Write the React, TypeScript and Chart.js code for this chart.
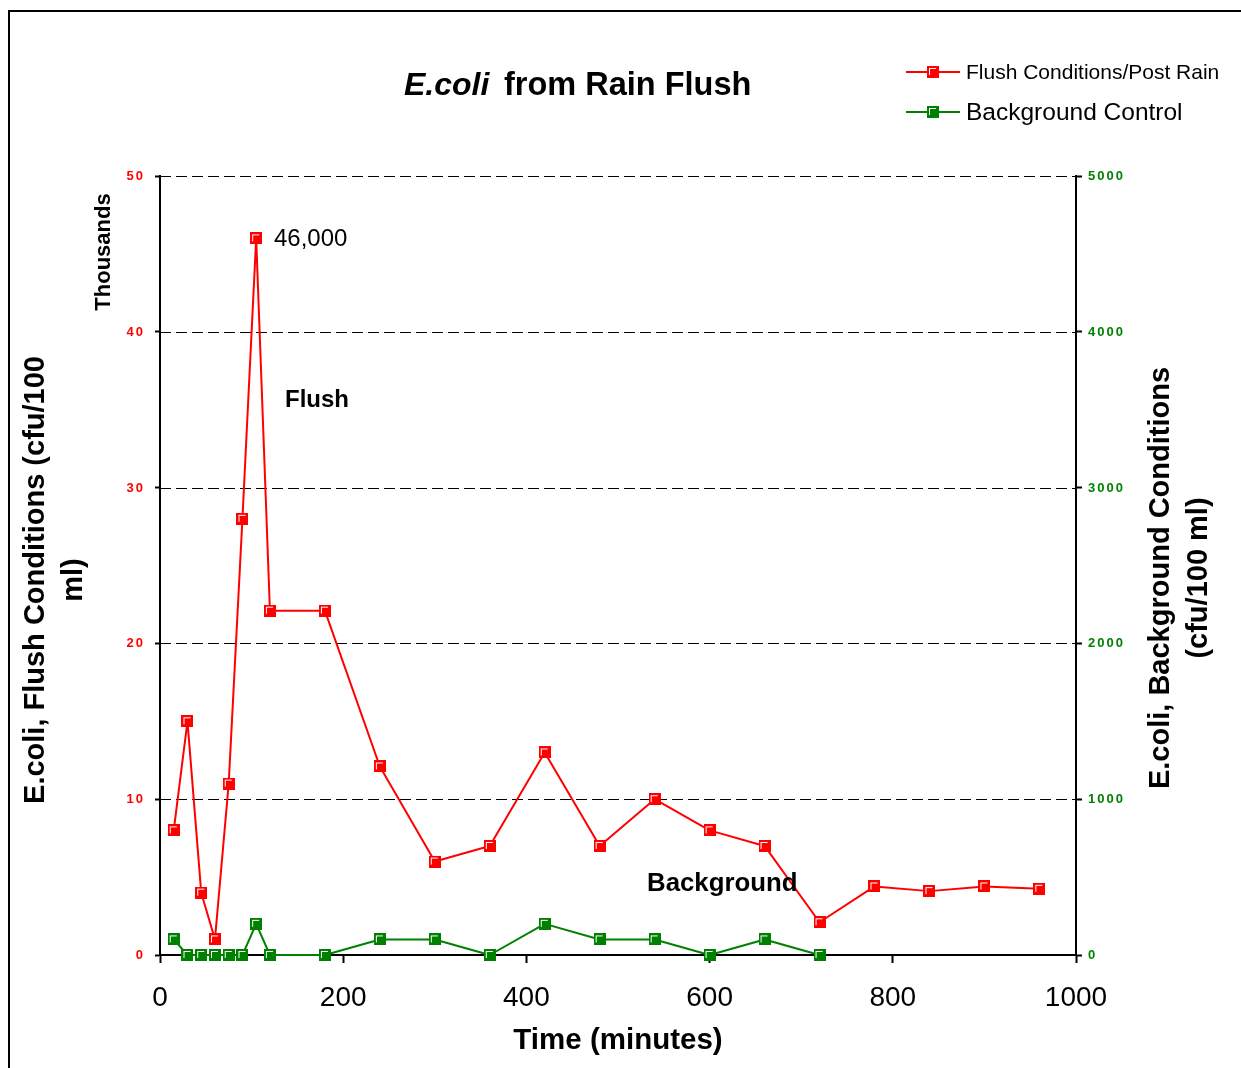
import React, { useEffect, useRef } from 'react';
import { Chart, registerables } from 'chart.js';

Chart.register(...registerables);

const FONT = '"Liberation Sans", Arial, Helvetica, sans-serif';

// ---- Data ----
const flushTimes = [15, 30, 45, 60, 75, 90, 105, 120, 180, 240, 300, 360, 420, 480, 540, 600, 660, 720, 780, 840, 900, 960];
const flushValues = [8, 15, 4, 1, 11, 28, 46, 22.1, 22.1, 12.1, 6, 7, 13, 7, 10, 8, 7, 2.1, 4.4, 4.1, 4.4, 4.25];
const backgroundTimes = [15, 30, 45, 60, 75, 90, 105, 120, 180, 240, 300, 360, 420, 480, 540, 600, 660, 720];
const backgroundValues = [100, 0, 0, 0, 0, 0, 200, 0, 0, 100, 100, 0, 200, 100, 100, 0, 100, 0];
const leftTickValues = [0, 10, 20, 30, 40, 50];
const rightTickValues = [0, 1000, 2000, 3000, 4000, 5000];
const xTickStep = 200;

const RED = '#FF0000';
const GREEN = '#008000';

function makeMarker(color: string) {
  const s = 12;
  const c = document.createElement('canvas');
  c.width = s;
  c.height = s;
  const g = c.getContext('2d')!;
  g.fillStyle = color;
  g.fillRect(0, 0, s, s);
  g.fillStyle = '#ffffff';
  g.fillRect(2, 2, 7, 1);
  g.fillRect(2, 2, 1, 7);
  return c;
}

function spacedText(ctx: CanvasRenderingContext2D, text: string, x: number, y: number, align: string, spacing: number) {
  const chars = [...text];
  const widths = chars.map((c) => ctx.measureText(c).width);
  const total = widths.reduce((a, b) => a + b, 0) + spacing * (chars.length - 1);
  let cx = align === 'right' ? x - total : align === 'center' ? x - total / 2 : x;
  ctx.textAlign = 'left';
  chars.forEach((c, i) => {
    ctx.fillText(c, cx, y);
    cx += widths[i] + spacing;
  });
}

export default function App() {
  const ref = useRef<HTMLCanvasElement | null>(null);

  useEffect(() => {
    if (!ref.current) return;
    const redMarker = makeMarker(RED);
    const greenMarker = makeMarker(GREEN);

    const decor = {
      id: 'decor',
      beforeDatasetsDraw(chart: any) {
        const { ctx, chartArea } = chart;
        const ys = chart.scales.y;
        ctx.save();
        ctx.strokeStyle = '#000';
        ctx.lineWidth = 1;
        ctx.setLineDash([11, 5]);
        leftTickValues.forEach((v) => {
          if (v === 0) return;
          const y = Math.round(ys.getPixelForValue(v)) + 0.5;
          ctx.beginPath();
          ctx.moveTo(chartArea.left, y);
          ctx.lineTo(chartArea.right, y);
          ctx.stroke();
        });
        ctx.restore();
      },
      afterDraw(chart: any) {
        const { ctx } = chart;
        const ys = chart.scales.y;
        const ys1 = chart.scales.y1;
        ctx.save();
        // frame
        ctx.strokeStyle = '#000';
        ctx.lineWidth = 2;
        ctx.beginPath();
        ctx.moveTo(9, 1068);
        ctx.lineTo(9, 11);
        ctx.lineTo(1241, 11);
        ctx.stroke();

        // y tick labels
        ctx.textBaseline = 'middle';
        ctx.font = `bold 13px ${FONT}`;
        ctx.fillStyle = RED;
        leftTickValues.forEach((v) => {
          spacedText(ctx, String(v), 143, ys.getPixelForValue(v) + 0.5, 'right', 2);
        });
        ctx.fillStyle = GREEN;
        rightTickValues.forEach((v) => {
          spacedText(ctx, String(v), 1088, ys1.getPixelForValue(v) + 0.5, 'left', 2);
        });

        // title
        ctx.fillStyle = '#000';
        ctx.textBaseline = 'alphabetic';
        ctx.textAlign = 'left';
        ctx.font = `italic bold 32px ${FONT}`;
        ctx.fillText('E.coli', 404, 95);
        ctx.font = `bold 32.5px ${FONT}`;
        ctx.fillText('from Rain Flush', 504, 95);

        // legend
        ctx.lineWidth = 2;
        ctx.strokeStyle = RED;
        ctx.beginPath();
        ctx.moveTo(906, 72);
        ctx.lineTo(960, 72);
        ctx.stroke();
        ctx.drawImage(redMarker, 927, 66);
        ctx.strokeStyle = GREEN;
        ctx.beginPath();
        ctx.moveTo(906, 112);
        ctx.lineTo(960, 112);
        ctx.stroke();
        ctx.drawImage(greenMarker, 927, 106);
        ctx.fillStyle = '#000';
        ctx.textBaseline = 'middle';
        ctx.font = `21px ${FONT}`;
        ctx.fillText('Flush Conditions/Post Rain', 966, 73);
        ctx.font = `24.5px ${FONT}`;
        ctx.fillText('Background Control', 966, 113);

        // annotations
        ctx.font = `24px ${FONT}`;
        ctx.fillText('46,000', 274, 239);
        ctx.font = `bold 24px ${FONT}`;
        ctx.fillText('Flush', 285, 400);
        ctx.font = `bold 25.8px ${FONT}`;
        ctx.fillText('Background', 647, 884);

        // x title
        ctx.textAlign = 'center';
        ctx.font = `bold 29.5px ${FONT}`;
        ctx.fillText('Time (minutes)', 618, 1041);

        // left title
        ctx.save();
        ctx.translate(36, 580);
        ctx.rotate(-Math.PI / 2);
        ctx.font = `bold 29px ${FONT}`;
        ctx.fillText('E.coli, Flush Conditions (cfu/100', 0, 0);
        ctx.restore();
        ctx.save();
        ctx.translate(74, 580);
        ctx.rotate(-Math.PI / 2);
        ctx.font = `bold 29px ${FONT}`;
        ctx.fillText('ml)', 0, 0);
        ctx.restore();
        ctx.save();
        ctx.translate(104, 252);
        ctx.rotate(-Math.PI / 2);
        ctx.font = `bold 22px ${FONT}`;
        ctx.fillText('Thousands', 0, 0);
        ctx.restore();

        // right title
        ctx.save();
        ctx.translate(1161, 578);
        ctx.rotate(-Math.PI / 2);
        ctx.font = `bold 29px ${FONT}`;
        ctx.fillText('E.coli, Background Conditions', 0, 0);
        ctx.restore();
        ctx.save();
        ctx.translate(1199, 578);
        ctx.rotate(-Math.PI / 2);
        ctx.font = `bold 29px ${FONT}`;
        ctx.fillText('(cfu/100 ml)', 0, 0);
        ctx.restore();

        ctx.restore();
      },
    };

    const chart = new Chart(ref.current, {
      type: 'line',
      data: {
        datasets: [
          {
            label: 'Flush Conditions/Post Rain',
            data: flushTimes.map((t, i) => ({ x: t, y: flushValues[i] })),
            yAxisID: 'y',
            borderColor: RED,
            backgroundColor: RED,
            borderWidth: 2,
            borderJoinStyle: 'round',
            pointStyle: redMarker as any,
            pointRadius: 6,
            tension: 0,
            clip: false as any,
          },
          {
            label: 'Background Control',
            data: backgroundTimes.map((t, i) => ({ x: t, y: backgroundValues[i] })),
            yAxisID: 'y1',
            borderColor: GREEN,
            backgroundColor: GREEN,
            borderWidth: 2,
            borderJoinStyle: 'round',
            pointStyle: greenMarker as any,
            pointRadius: 6,
            tension: 0,
            clip: false as any,
          },
        ],
      },
      options: {
        animation: false,
        responsive: false,
        events: [],
        layout: { padding: { top: 176, left: 0, right: 0, bottom: 0 } },
        plugins: {
          legend: { display: false },
          title: { display: false },
          tooltip: { enabled: false },
        },
        scales: {
          x: {
            type: 'linear',
            position: 'bottom',
            min: 0,
            max: 1000,
            ticks: {
              stepSize: xTickStep,
              color: '#000',
              font: { family: FONT, size: 28 },
              padding: 18,
              maxRotation: 0,
              autoSkip: false,
              callback: (v: any) => String(v),
            },
            grid: { drawOnChartArea: false, drawTicks: true, tickLength: 8, tickColor: '#000', tickWidth: 2 },
            border: { display: true, color: '#000', width: 2 },
            afterFit: (s: any) => {
              s.height = 113;
            },
          },
          y: {
            type: 'linear',
            position: 'left',
            min: 0,
            max: 50,
            ticks: { stepSize: 10, display: false },
            grid: { drawOnChartArea: false, drawTicks: true, tickLength: 5, tickColor: '#000', tickWidth: 2 },
            border: { display: true, color: '#000', width: 2 },
            afterFit: (s: any) => {
              s.width = 160;
            },
          },
          y1: {
            type: 'linear',
            position: 'right',
            min: 0,
            max: 5000,
            ticks: { stepSize: 1000, display: false },
            grid: { drawOnChartArea: false, drawTicks: true, tickLength: 6, tickColor: '#000', tickWidth: 2 },
            border: { display: true, color: '#000', width: 2 },
            afterFit: (s: any) => {
              s.width = 165;
            },
          },
        },
      },
      plugins: [decor],
    });
    return () => chart.destroy();
  }, []);

  return (
    <div style={{ position: 'absolute', left: 0, top: 0, width: 1241, height: 1068, background: '#fff' }}>
      <canvas ref={ref} width={1241} height={1068} style={{ display: 'block' }} />
    </div>
  );
}
